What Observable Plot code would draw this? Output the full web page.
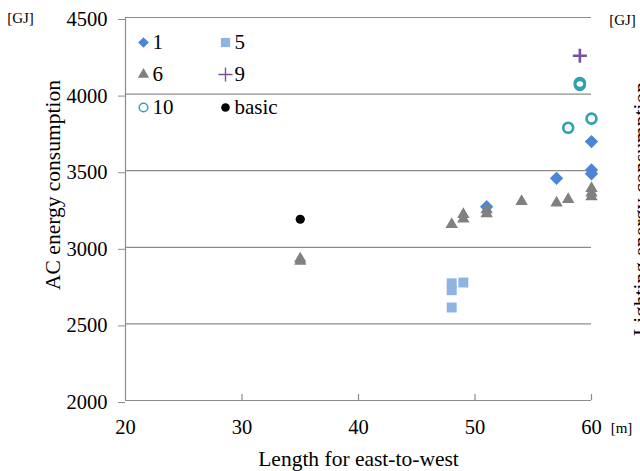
<!DOCTYPE html>
<html><head><meta charset="utf-8">
<script src="https://cdn.jsdelivr.net/npm/d3@7"></script>
<script src="https://cdn.jsdelivr.net/npm/@observablehq/plot@0.6"></script>
<style>
body{margin:0;background:#fff}
#chart{width:640px;height:471px;overflow:hidden;position:relative}
#chart svg, #chart svg text{font-family:"Liberation Serif", serif !important;font-variant-numeric:normal !important}
</style>
</head><body><div id="chart"></div>
<script>
// ---- data ----
const xTicks = [20, 30, 40, 50, 60];
const yTicks = [2000, 2500, 3000, 3500, 4000, 4500];

const s1X = [51, 57, 60, 60, 60];
const s1Y = [3265, 3450, 3505, 3480, 3690];

const s5X = [48, 48, 48, 49];
const s5Y = [2765, 2720, 2607, 2770];

const s6X = [35, 35, 48, 49, 49, 51, 51, 54, 57, 58, 60, 60, 60];
const s6Y = [2910, 2925, 3150, 3185, 3215, 3220, 3245, 3300, 3290, 3312, 3330, 3355, 3385];

const s9X = [59];
const s9Y = [4250];

const s10X = [59, 59, 58, 60];
const s10Y = [4060, 4072, 3780, 3840];

const basicX = [35];
const basicY = [3183];

const seriesNames = ["1", "5", "6", "9", "10", "basic"];

// ---- styling ----
const gray = "#8c8c8c";
const font = "Liberation Serif";
const series = [
  {name: "1", x: s1X, y: s1Y, symbol: "diamond2", fill: "#4a86d6", stroke: "none", r: 6, lr: 4.8},
  {name: "5", x: s5X, y: s5Y, symbol: "square", fill: "#8db4e3", stroke: "none", r: 5.6, lr: 5.2},
  {name: "6", x: s6X, y: s6Y, symbol: "triangle", fill: "#808080", stroke: "none", r: 4.6, lr: 4.2},
  {name: "9", x: s9X, y: s9Y, symbol: "plus", fill: "none", stroke: "#7a4fa2", r: 4.6, lr: 4.6, sw: 2.6, lsw: 1.4},
  {name: "10", x: s10X, y: s10Y, symbol: "circle", fill: "none", stroke: "#31a0b5", r: 5, lr: 4.3, sw: 2.6, lsw: 1.5},
  {name: "basic", x: basicX, y: basicY, symbol: "circle", fill: "black", stroke: "none", r: 4.6, lr: 4.3}
];

const pointMarks = series.map(s => {
  const rows = s.x.map((x, i) => ({x, y: s.y[i]}));
  return Plot.dot(rows, {x: "x", y: "y", symbol: () => s.symbol, r: s.r,
    fill: s.fill, stroke: s.stroke, strokeWidth: s.sw || 1});
});

const txt = (t, o) => Plot.text([t], {text: d => d, fill: "black", fontFamily: font, lineAnchor: "middle", ...o});

// legend (inside the plot frame, 2 columns x 3 rows)
const legendMarks = series.flatMap((s, i) => {
  const col = i % 2, row = Math.floor(i / 2);
  const dx = 18 + col * 82, dy = [25, 57, 90][row];
  return [
    Plot.dot([s.name], {frameAnchor: "top-left", dx, dy, symbol: () => s.symbol, r: s.lr,
      fill: s.fill, stroke: s.stroke, strokeWidth: s.lsw || 1}),
    txt(s.name, {frameAnchor: "top-left", dx: dx + 9, dy, textAnchor: "start", fontSize: 21})
  ];
});

const chart = Plot.plot({
  width: 640,
  height: 471,
  marginLeft: 125,
  marginRight: 49,
  marginTop: 17,
  marginBottom: 71,
  style: {fontFamily: font, fontSize: "20px", color: "black", background: "white"},
  x: {domain: [20, 60]},
  y: {domain: [2000, 4500]},
  marks: [
    Plot.ruleY(yTicks.slice(1), {stroke: gray, strokeWidth: 1.2}),
    Plot.ruleY([2000], {stroke: gray, strokeWidth: 1.2}),
    Plot.ruleX([20], {stroke: gray, strokeWidth: 1.2}),
    Plot.ruleX(xTicks.slice(1), {y1: 2000, y2: 2000, insetTop: -6, stroke: gray, strokeWidth: 1.2}),
    Plot.axisY({ticks: yTicks, tickSize: 7, tickPadding: 11, stroke: gray, fill: "black", label: null,
      fontSize: 20.5, fontFamily: font, dy: 2, tickFormat: d => String(d)}),
    Plot.axisX({ticks: xTicks, tickSize: 0, tickPadding: 19, fill: "black", label: null,
      fontSize: 20.5, fontFamily: font, tickFormat: d => String(d)}),
    ...pointMarks,
    ...legendMarks,
    txt("AC energy consumption", {frameAnchor: "left", dx: -72, dy: -24, rotate: -90, textAnchor: "middle", fontSize: 21.5}),
    txt("Length for east-to-west", {frameAnchor: "bottom", dy: 59, textAnchor: "middle", fontSize: 21.5}),
    txt("[m]", {frameAnchor: "bottom-right", dx: 30, dy: 28, textAnchor: "middle", fontSize: 15}),
    txt("[GJ]", {frameAnchor: "top-left", dx: -105, dy: 1, textAnchor: "middle", fontSize: 15}),
    txt("[GJ]", {frameAnchor: "top-right", dx: 31, dy: 3, textAnchor: "middle", fontSize: 15}),
    txt("Lighting energy consumption", {frameAnchor: "right", dx: 50, rotate: -90, textAnchor: "middle", fontSize: 21.5})
  ]
});
document.getElementById("chart").appendChild(chart);
</script>
</body></html>
